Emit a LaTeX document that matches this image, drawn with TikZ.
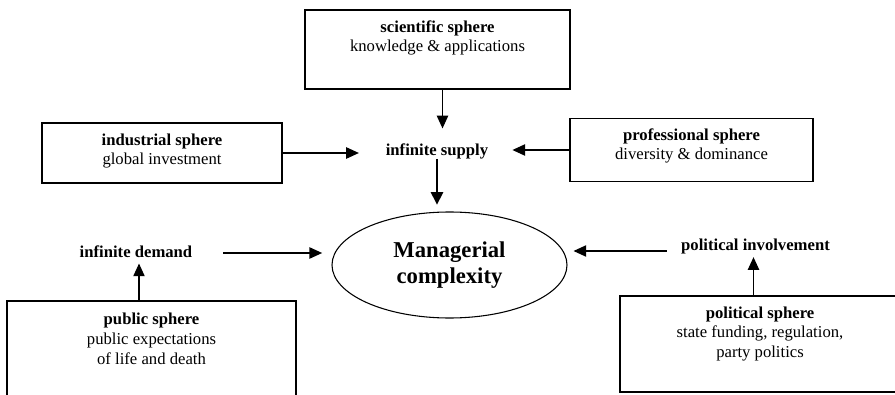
\documentclass[tikz,border=0pt]{standalone}
\usepackage{fontspec}
\setmainfont{Liberation Serif}
\usetikzlibrary{arrows.meta,shapes.geometric}

\tikzset{
  sphere/.style={draw, line width=1.2pt, rectangle, inner sep=0pt},
  boxtext/.style={align=center, inner sep=0pt, font=\fontsize{12.5}{14.8}\selectfont},
  flow/.style={font=\fontsize{12.5}{14.8}\selectfont\bfseries, inner sep=0pt},
  core/.style={draw, ellipse, line width=0.8pt, inner sep=0pt, align=center,
    font=\fontsize{17}{20}\selectfont\bfseries},
  arr/.style={line width=0.9pt, -{Triangle[length=9.5pt,width=8.5pt]}},
  heavyarr/.style={line width=1.8pt, -{Triangle[length=9.5pt,width=9pt]}}
}

\begin{document}
\begin{tikzpicture}[x=0.75pt, y=-0.75pt]
  \useasboundingbox (0,0) rectangle (895,395);
  \clip (0,0) rectangle (895,395);
  \fill[white] (0,0) rectangle (895,395);

  % the five spheres
  \node[sphere, minimum width={265*0.75pt}, minimum height={79*0.75pt}] (sci) at (437.5,49.5) {};
  \node[boxtext] (scit) at (437.5,38) {\textbf{scientific sphere}\\knowledge \& applications};

  \node[sphere, minimum width={240*0.75pt}, minimum height={60*0.75pt}] (ind) at (162,153) {};
  \node[boxtext] (indt) at (162,151) {\textbf{industrial sphere}\\global investment};

  \node[sphere, minimum width={243*0.75pt}, minimum height={63*0.75pt}] (pro) at (691.5,150) {};
  \node[boxtext] (prot) at (691.5,146) {\textbf{professional sphere}\\diversity \& dominance};

  \node[sphere, minimum width={289*0.75pt}, minimum height={130*0.75pt}] (pub) at (151.5,366) {};
  \node[boxtext] (pubt) at (151.5,339) {\textbf{public sphere}\\public expectations\\of life and death};

  \node[sphere, minimum width={310*0.75pt}, minimum height={96*0.75pt}] (pol) at (775,344) {};
  \node[boxtext] (polt) at (760,334) {\textbf{political sphere}\\state funding, regulation,\\party politics};

  % intermediate pressures
  \node[flow] (sup) at (437,151) {infinite supply};
  \node[flow] (dem) at (136,252) {infinite demand};
  \node[flow] (inv) at (755.5,246) {political involvement};

  % centre
  \node[core, minimum width={235*0.75pt}, minimum height={106*0.75pt}] (ell) at (449.5,265)
    {Managerial\\complexity};

  % connectors
  \draw[arr, shorten >=11pt] ([xshift=3.75pt]sci.south) -- ([xshift=3.75pt]sci.south |- sup.north);
  \draw[arr, shorten >=20pt] (ind.east) -- (ind.east -| sup.west);
  \draw[arr, shorten >=18pt] (pro.west) -- (pro.west -| sup.east);
  \draw[heavyarr, shorten >=5pt] (sup.south) -- (sup.south |- ell.north);
  \draw[arr, shorten <=23pt, shorten >=7pt] ([yshift=-0.75pt]dem.east) -- ([yshift=-0.75pt]dem.east -| ell.west);
  \draw[arr, shorten <=10.5pt, shorten >=4.5pt] ([yshift=-3.75pt]inv.west) -- ([yshift=-3.75pt]inv.west -| ell.east);
  \draw[arr, shorten >=4pt] ([xshift=2.25pt]dem.south |- pub.north) -- ([xshift=2.25pt]dem.south);
  \draw[arr, shorten >=2.5pt] ([xshift=-1.5pt]inv.south |- pol.north) -- ([xshift=-1.5pt]inv.south);
\end{tikzpicture}
\end{document}
